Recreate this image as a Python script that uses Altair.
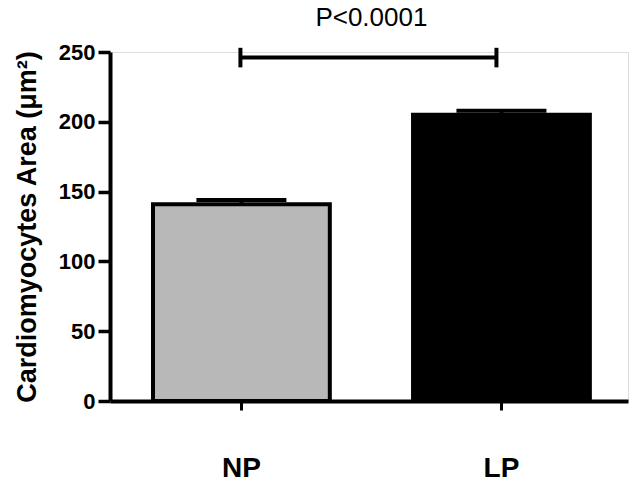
import altair as alt
import pandas as pd

groups = ["NP", "LP"]
means = [141, 205]
errors = [3, 3]
fills = ["#b8b8b8", "#000000"]
p_text = "P<0.0001"
sig_y = 246
sig_cap = 7
text_y = 274.3

df = pd.DataFrame({"group": groups, "mean": means, "err": errors, "fill": fills})
df["top"] = df["mean"] + df["err"]

xscale = alt.Scale(domain=groups, paddingInner=0.32, paddingOuter=0.156, align=0.53)
yscale = alt.Scale(domain=[0, 250], nice=False)

x_enc = alt.X("group:N", scale=xscale, sort=groups, title=None,
              axis=alt.Axis(labelFont="Liberation Sans", labelFontSize=28, labelFontWeight="bold",
                            labelColor="black", labelAngle=0, labelPadding=44,
                            domainColor="black", domainWidth=4, tickColor="black",
                            tickWidth=3, tickSize=9, grid=False))

bars = alt.Chart(df).mark_bar(stroke="black", strokeWidth=4).encode(
    x=x_enc,
    y=alt.Y("mean:Q", scale=yscale, title="Cardiomyocytes Area (μm²)",
            axis=alt.Axis(values=[0, 50, 100, 150, 200, 250], labelFont="Liberation Sans",
                          labelFontSize=22, labelFontWeight="bold", labelColor="black",
                          titleFont="Liberation Sans", titleFontSize=27, titleFontWeight="bold",
                          titleColor="black", titlePadding=17, labelPadding=3,
                          domainColor="black", domainWidth=4, tickColor="black",
                          tickWidth=3.5, tickSize=12, grid=False)),
    fill=alt.Fill("fill:N", scale=None),
)

err_rule = alt.Chart(df).mark_rule(color="black", strokeWidth=4).encode(
    x=alt.X("group:N", scale=xscale, sort=groups, bandPosition=0.5),
    y=alt.Y("mean:Q", scale=yscale), y2="top:Q",
)
err_cap = alt.Chart(df).mark_tick(color="black", thickness=4, size=90, orient="horizontal",
                                  opacity=1).encode(
    x=alt.X("group:N", scale=xscale, sort=groups),
    y=alt.Y("top:Q", scale=yscale),
)

sig_df = pd.DataFrame({"x1": [groups[0]], "x2": [groups[1]], "y": [sig_y]})
sig_line = alt.Chart(sig_df).mark_rule(color="black", strokeWidth=4, x2Offset=-5, xOffset=-1).encode(
    x=alt.X("x1:N", scale=xscale, bandPosition=0.5),
    x2=alt.X2("x2:N", bandPosition=0.5),
    y=alt.Y("y:Q", scale=yscale),
)
cap_df = pd.DataFrame({"g": groups, "lo": [sig_y - sig_cap] * 2, "hi": [sig_y + sig_cap] * 2})
cap_np = alt.Chart(cap_df).transform_filter(alt.datum.g == groups[0]).mark_rule(
    color="black", strokeWidth=4, xOffset=-1).encode(
    x=alt.X("g:N", scale=xscale, bandPosition=0.5),
    y=alt.Y("lo:Q", scale=yscale), y2="hi:Q",
)
cap_lp = alt.Chart(cap_df).transform_filter(alt.datum.g == groups[1]).mark_rule(
    color="black", strokeWidth=4, xOffset=-5).encode(
    x=alt.X("g:N", scale=xscale, bandPosition=0.5),
    y=alt.Y("lo:Q", scale=yscale), y2="hi:Q",
)
txt_df = pd.DataFrame({"x1": [groups[0]], "y": [text_y], "label": [p_text]})
sig_text = alt.Chart(txt_df).mark_text(font="Liberation Sans", fontSize=26, color="black",
                                       align="center", baseline="middle", dx=130).encode(
    x=alt.X("x1:N", scale=xscale, bandPosition=0.5),
    y=alt.Y("y:Q", scale=yscale),
    text="label:N",
)

chart = alt.layer(bars, err_rule, err_cap, sig_line, cap_np, cap_lp, sig_text).properties(
    width=518, height=349,
    autosize=alt.AutoSizeParams(type="none"),
    padding={"left": 102, "top": 44, "right": 4, "bottom": 80},
).configure_view(stroke=None).configure(background="white")

chart.save("out.html", embed_options={"renderer": "svg", "actions": False})
